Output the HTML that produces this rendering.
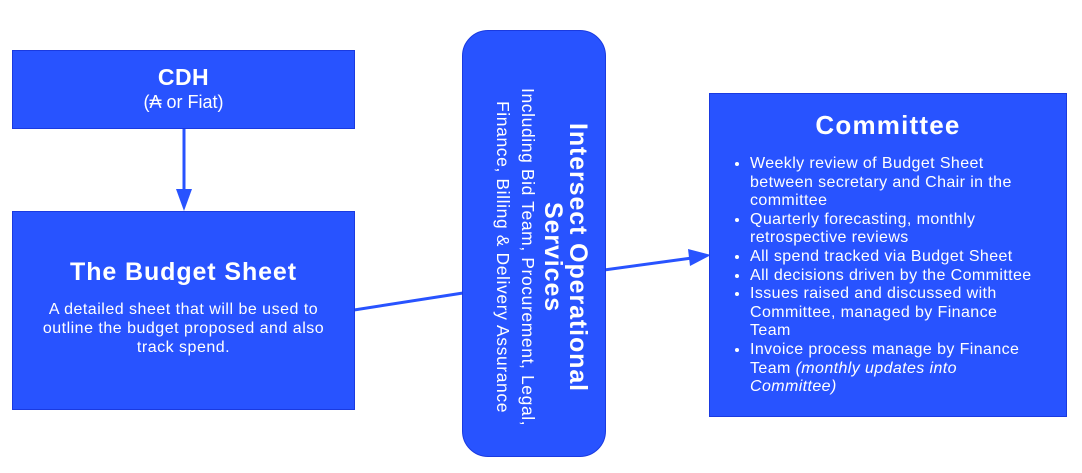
<!DOCTYPE html>
<html><head><meta charset="utf-8"><style>
body{margin:0;width:1082px;height:473px;background:#fff;position:relative;overflow:hidden;font-family:"Liberation Sans",sans-serif;color:#fff}
.b{position:absolute;background:#2853ff;border:1px solid #1a3ae0;box-sizing:border-box}
li{white-space:nowrap}
</style></head><body>
<svg width="1082" height="473" style="position:absolute;left:0;top:0">
<line x1="184" y1="128" x2="184" y2="192" stroke="#2853ff" stroke-width="3"/>
<polygon points="176,189 192,189 184,211" fill="#2853ff"/>
<line x1="354" y1="310" x2="463" y2="293" stroke="#2853ff" stroke-width="3"/>
<line x1="604" y1="270" x2="692" y2="258" stroke="#2853ff" stroke-width="3"/>
<polygon points="688,249 711,255 690,266" fill="#2853ff"/>
</svg>
<div class="b" style="left:12px;top:50px;width:343px;height:79px;text-align:center">
<div style="font-weight:bold;font-size:23px;margin-top:13px;letter-spacing:0.5px">CDH</div>
<div style="font-size:18px;margin-top:1px">(₳ or Fiat)</div>
</div>
<div class="b" style="left:12px;top:211px;width:343px;height:199px;text-align:center">
<div style="font-weight:bold;font-size:25px;margin-top:46px;letter-spacing:0.9px">The Budget Sheet</div>
<div style="font-size:16px;line-height:19px;margin:13px 0 0;letter-spacing:0.5px">A detailed sheet that will be used to<br>outline the budget proposed and also<br>track spend.</div>
</div>
<div class="b" style="left:462px;top:30px;width:144px;height:427px;border-radius:26px;border-color:#1a3ae0">
<div style="position:absolute;left:22px;top:26px;width:105px;height:400px;writing-mode:vertical-rl;text-align:center;white-space:nowrap">
<div style="font-weight:bold;font-size:25px;line-height:25px;letter-spacing:0.9px">Intersect Operational<br>Services</div>
<div style="font-size:17.5px;line-height:25px;letter-spacing:0.6px">Including Bid Team, Procurement, Legal,<br>Finance, Billing &amp; Delivery Assurance</div>
</div>
</div>
<div class="b" style="left:709px;top:93px;width:358px;height:324px">
<div style="font-weight:bold;font-size:26px;text-align:center;margin-top:16px;letter-spacing:1.2px">Committee</div>
<ul style="font-size:16px;line-height:18.6px;margin:14px 0 0;padding-left:40px;padding-right:0;letter-spacing:0.4px">
<li>Weekly review of Budget Sheet<br>between secretary and Chair in the<br>committee</li>
<li>Quarterly forecasting, monthly<br>retrospective reviews</li>
<li>All spend tracked via Budget Sheet</li>
<li>All decisions driven by the Committee</li>
<li>Issues raised and discussed with<br>Committee, managed by Finance<br>Team</li>
<li>Invoice process manage by Finance<br>Team <i>(monthly updates into<br>Committee)</i></li>
</ul>
</div>
</body></html>
